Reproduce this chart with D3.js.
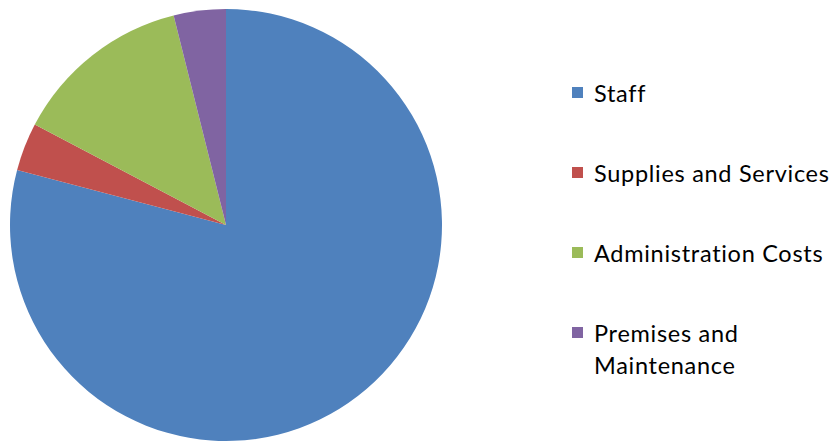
<!DOCTYPE html>
<html>
<head>
<meta charset="utf-8">
<script src="https://cdn.jsdelivr.net/npm/d3@7"></script>
<style>
  html, body { margin: 0; padding: 0; background: #fff; }
  svg { display: block; }
</style>
</head>
<body>
<svg id="chart" width="833" height="443"></svg>
<script>
// Budget breakdown (percent of total)
const categories = ["Staff", "Supplies and Services", "Administration Costs", "Premises and Maintenance"];
const values = [79.1, 3.6, 13.4, 3.9];
const legendLines = [["Staff"], ["Supplies and Services"], ["Administration Costs"], ["Premises and", "Maintenance"]];
const colors = ["#4F81BD", "#C0504D", "#9BBB59", "#8064A2"];

const svg = d3.select("#chart");
const W = 833, H = 443;
const cx = 226, cy = 225, radius = 216;

const color = d3.scaleOrdinal().domain(categories).range(colors);

const pie = d3.pie().sort(null).value(d => d.value).startAngle(0).endAngle(2 * Math.PI);
const arc = d3.arc().innerRadius(0).outerRadius(radius);

const data = categories.map((c, i) => ({ name: c, value: values[i] }));

svg.append("g")
  .attr("transform", `translate(${cx},${cy})`)
  .selectAll("path")
  .data(pie(data))
  .join("path")
  .attr("d", arc)
  .attr("fill", d => color(d.data.name));

// Legend
const legendX = 572, firstBaseline = 102, rowStep = 80, lineStep = 32;
const fontSize = 23.5;
const legend = svg.append("g")
  .attr("font-family", "Lato, 'Open Sans', sans-serif")
  .attr("font-size", fontSize)
  .attr("fill", "#000");

const rows = legend.selectAll("g.row")
  .data(categories)
  .join("g")
  .attr("class", "row")
  .attr("transform", (d, i) => `translate(${legendX},${firstBaseline + i * rowStep})`);

rows.append("rect")
  .attr("x", 0)
  .attr("y", -15)
  .attr("width", 11)
  .attr("height", 11)
  .attr("fill", d => color(d));

const texts = rows.append("text")
  .attr("x", 22)
  .attr("y", 0);

texts.selectAll("tspan")
  .data((d, i) => legendLines[i])
  .join("tspan")
  .attr("x", 22)
  .attr("dy", (d, j) => j === 0 ? 0 : lineStep)
  .text(d => d);

// Spread letters so the widest entry spans its full width
const target = 235;
let widest = null, widestLen = 0;
texts.selectAll("tspan").each(function () {
  const l = this.getComputedTextLength();
  if (l > widestLen) { widestLen = l; widest = this; }
});
const nChars = widest.textContent.length;
const spacing = (target - widestLen) / Math.max(1, nChars - 1);
legend.attr("letter-spacing", spacing.toFixed(2));
</script>
</body>
</html>
